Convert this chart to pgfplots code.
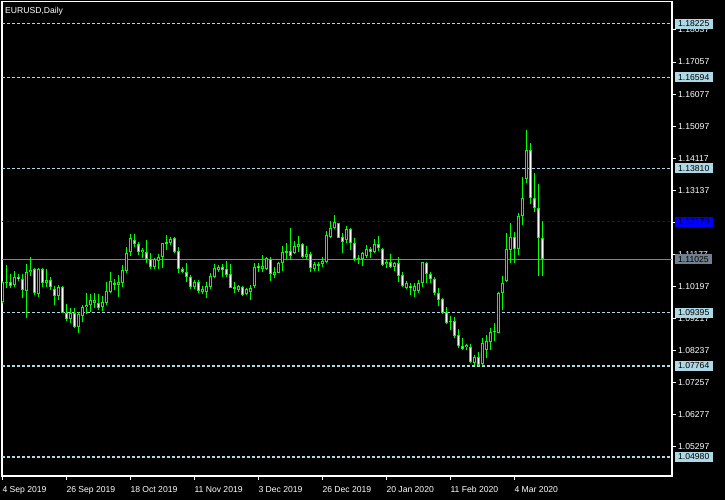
\documentclass[border=0pt]{standalone}
\usepackage{fontspec}
\setmainfont{Liberation Sans}
\usepackage{pgfplots}
\usepackage{pgfplotstable}
\pgfplotsset{compat=1.18}
\definecolor{candle}{RGB}{0,255,0}
\definecolor{lvl}{RGB}{173,216,230}
\definecolor{lvlblue}{RGB}{0,0,255}
\definecolor{pxline}{RGB}{119,136,153}
\definecolor{pxbox}{RGB}{112,128,144}

% EURUSD daily: bar index, open, high, low, close
\pgfplotstableread{
x o h l c
0 1.0972 1.1036 1.0969 1.1033
1 1.1031 1.1085 1.1016 1.1034
2 1.1033 1.1057 1.1016 1.1022
3 1.1024 1.1067 1.1019 1.1048
4 1.1048 1.1057 1.1036 1.1041
5 1.1041 1.1057 1.0983 1.1008
6 1.1007 1.1088 1.0924 1.1063
7 1.1063 1.1109 1.1051 1.1070
8 1.1073 1.1076 1.0993 1.0999
9 1.0996 1.1076 1.0988 1.1072
10 1.1073 1.1077 1.1019 1.1029
11 1.1029 1.1073 1.1019 1.1039
12 1.1038 1.1048 1.1010 1.1017
13 1.1012 1.1020 1.0963 1.0991
14 1.0991 1.1024 1.0978 1.1018
15 1.1018 1.1020 1.0937 1.0939
16 1.0939 1.0965 1.0915 1.0920
17 1.0920 1.0953 1.0907 1.0939
18 1.0938 1.0953 1.0892 1.0897
19 1.0896 1.0942 1.0876 1.0935
20 1.0929 1.0963 1.0912 1.0958
21 1.0956 1.0999 1.0934 1.0963
22 1.0962 1.0996 1.0942 1.0977
23 1.0968 1.1000 1.0955 1.0977
24 1.0970 1.0996 1.0948 1.0955
25 1.0956 1.0990 1.0945 1.0973
26 1.0968 1.1034 1.0963 1.1006
27 1.1004 1.1065 1.0999 1.1036
28 1.1029 1.1041 1.1009 1.1023
29 1.1023 1.1055 1.0988 1.1032
30 1.1029 1.1085 1.1019 1.1070
31 1.1068 1.1140 1.1062 1.1121
32 1.1124 1.1180 1.1114 1.1167
33 1.1162 1.1180 1.1141 1.1149
34 1.1148 1.1155 1.1116 1.1124
35 1.1124 1.1138 1.1106 1.1131
36 1.1126 1.1162 1.1092 1.1103
37 1.1103 1.1121 1.1072 1.1078
38 1.1078 1.1107 1.1072 1.1103
39 1.1098 1.1118 1.1072 1.1110
40 1.1109 1.1153 1.1077 1.1151
41 1.1149 1.1177 1.1131 1.1155
42 1.1151 1.1172 1.1146 1.1165
43 1.1167 1.1172 1.1121 1.1126
44 1.1128 1.1139 1.1062 1.1073
45 1.1073 1.1080 1.1060 1.1065
46 1.1065 1.1090 1.1034 1.1048
47 1.1048 1.1055 1.1012 1.1017
48 1.1017 1.1039 1.1012 1.1032
49 1.1032 1.1039 1.0999 1.1007
50 1.1004 1.1021 1.0996 1.1011
51 1.1004 1.1034 1.0985 1.1022
52 1.1019 1.1060 1.1011 1.1052
53 1.1048 1.1088 1.1044 1.1075
54 1.1070 1.1085 1.1065 1.1080
55 1.1078 1.1087 1.1049 1.1070
56 1.1073 1.1098 1.1048 1.1055
57 1.1058 1.1088 1.1014 1.1016
58 1.1017 1.1032 1.0999 1.1012
59 1.1009 1.1024 1.1004 1.1021
60 1.1019 1.1022 1.0990 1.0993
61 1.0996 1.1014 1.0993 1.1011
62 1.1004 1.1024 1.0978 1.1014
63 1.1022 1.1090 1.1014 1.1080
64 1.1082 1.1092 1.1065 1.1075
65 1.1073 1.1116 1.1065 1.1082
66 1.1073 1.1109 1.1070 1.1106
67 1.1103 1.1109 1.1037 1.1058
68 1.1055 1.1078 1.1046 1.1065
69 1.1062 1.1095 1.1060 1.1092
70 1.1090 1.1143 1.1068 1.1126
71 1.1128 1.1151 1.1100 1.1122
72 1.1128 1.1199 1.1100 1.1113
73 1.1123 1.1159 1.1118 1.1143
74 1.1141 1.1174 1.1126 1.1148
75 1.1149 1.1153 1.1106 1.1109
76 1.1109 1.1143 1.1103 1.1119
77 1.1118 1.1126 1.1065 1.1075
78 1.1073 1.1093 1.1068 1.1088
79 1.1083 1.1095 1.1068 1.1088
80 1.1088 1.1109 1.1078 1.1098
81 1.1093 1.1189 1.1090 1.1177
82 1.1172 1.1220 1.1167 1.1199
83 1.1197 1.1238 1.1195 1.1216
84 1.1212 1.1213 1.1167 1.1169
85 1.1172 1.1184 1.1123 1.1155
86 1.1162 1.1204 1.1151 1.1195
87 1.1195 1.1199 1.1131 1.1151
88 1.1151 1.1169 1.1098 1.1103
89 1.1103 1.1116 1.1088 1.1107
90 1.1103 1.1126 1.1083 1.1121
91 1.1114 1.1146 1.1106 1.1134
92 1.1134 1.1139 1.1106 1.1126
93 1.1126 1.1165 1.1123 1.1148
94 1.1148 1.1174 1.1129 1.1136
95 1.1134 1.1137 1.1083 1.1085
96 1.1088 1.1103 1.1075 1.1095
97 1.1093 1.1118 1.1075 1.1080
98 1.1080 1.1095 1.1068 1.1090
99 1.1090 1.1109 1.1034 1.1052
100 1.1055 1.1065 1.1017 1.1022
101 1.1016 1.1036 1.1011 1.1029
102 1.1021 1.1029 1.0993 1.1014
103 1.1007 1.1029 1.0988 1.1021
104 1.1007 1.1039 1.1000 1.1031
105 1.1029 1.1095 1.1017 1.1093
106 1.1090 1.1093 1.1029 1.1058
107 1.1058 1.1065 1.1029 1.1041
108 1.1042 1.1049 1.0993 1.0999
109 1.1000 1.1016 1.0961 1.0978
110 1.0981 1.0985 1.0935 1.0937
111 1.0940 1.0956 1.0905 1.0909
112 1.0910 1.0930 1.0886 1.0915
113 1.0914 1.0925 1.0863 1.0868
114 1.0871 1.0889 1.0832 1.0838
115 1.0838 1.0861 1.0825 1.0828
116 1.0834 1.0844 1.0825 1.0841
117 1.0835 1.0843 1.0785 1.0790
118 1.0786 1.0810 1.0779 1.0805
119 1.0803 1.0818 1.0777 1.0779
120 1.0782 1.0861 1.0779 1.0846
121 1.0825 1.0871 1.0802 1.0854
122 1.0851 1.0892 1.0825 1.0879
123 1.0879 1.0907 1.0854 1.0881
124 1.0878 1.1003 1.0876 1.0999
125 1.0999 1.1051 1.0948 1.1029
126 1.1037 1.1182 1.1034 1.1133
127 1.1131 1.1213 1.1092 1.1170
128 1.1170 1.1185 1.1092 1.1133
129 1.1133 1.1243 1.1116 1.1236
130 1.1236 1.1353 1.1207 1.1289
131 1.1348 1.1498 1.1335 1.1437
132 1.1437 1.1457 1.1272 1.1289
133 1.1289 1.1366 1.1248 1.1259
134 1.1259 1.1333 1.1051 1.1167
135 1.1167 1.1220 1.1051 1.1103
}\ohlc

\begin{document}
\begin{tikzpicture}[x=1pt,y=1pt,font=\fontsize{8.6}{10}\selectfont]
\path[use as bounding box] (0,0) rectangle (725,500);
\fill[black] (0,0) rectangle (725,500);
\begin{axis}[
  at={(2pt,24pt)}, anchor=south west,
  scale only axis, width=670pt, height=474.5pt,
  xmin=-0.075, xmax=167.425, ymin=1.04399, ymax=1.18908,
  axis line style={white, line width=1.2pt},
  tick style={white, line width=1pt},
  major tick length=4pt, tick align=outside,
  xtick pos=left, ytick pos=right, yticklabel pos=right,
  xtick={0,16,32,48,64,80,96,112,128},
  xticklabels={4 Sep 2019,26 Sep 2019,18 Oct 2019,11 Nov 2019,3 Dec 2019,26 Dec 2019,20 Jan 2020,11 Feb 2020,4 Mar 2020},
  ytick={1.05297,1.06277,1.07257,1.08237,1.09217,1.10197,1.11177,1.12157,1.13137,1.14117,1.15097,1.16077,1.17057,1.18037},
  yticklabels={1.05297,1.06277,1.07257,1.08237,1.09217,1.10197,1.11177,1.12157,1.13137,1.14117,1.15097,1.16077,1.17057,1.18037},
  ticklabel style={text=white, font=\fontsize{8.6}{10}\selectfont},
  xticklabel style={anchor=north west, inner sep=0pt, yshift=-6pt},
  yticklabel style={anchor=west, inner sep=0pt, xshift=2pt},
]
% level lines
\addplot[lvl, dash pattern=on 3pt off 2pt, line width=1.2pt, forget plot] coordinates {(-0.075,1.18225) (167.425,1.18225)};
\addplot[lvl, dash pattern=on 3pt off 2pt, line width=1.2pt, forget plot] coordinates {(-0.075,1.16594) (167.425,1.16594)};
\addplot[lvl, dash pattern=on 3pt off 2pt, line width=1.2pt, forget plot] coordinates {(-0.075,1.13810) (167.425,1.13810)};
\addplot[lvlblue, dash pattern=on 3pt off 2pt, line width=1.4pt, forget plot] coordinates {(-0.075,1.12179) (167.425,1.12179)};
\addplot[pxline, line width=1.2pt, forget plot] coordinates {(-0.075,1.11025) (167.425,1.11025)};
\addplot[lvl, dash pattern=on 3pt off 2pt, line width=1.2pt, forget plot] coordinates {(-0.075,1.09395) (167.425,1.09395)};
\addplot[lvl, dash pattern=on 3pt off 2pt, line width=1.2pt, forget plot] coordinates {(-0.075,1.07764) (167.425,1.07764)};
\addplot[lvl, dash pattern=on 3pt off 2pt, line width=1.2pt, forget plot] coordinates {(-0.075,1.04980) (167.425,1.04980)};
% wicks
\addplot[draw=none, mark=none, forget plot,
  error bars/.cd, y dir=plus, y explicit, error mark=none,
  error bar style={draw=candle, line width=1pt}]
  table[x=x, y=l, y error plus expr={\thisrow{h}-\thisrow{l}}] {\ohlc};
% body outlines
\addplot[draw=none, mark=none, forget plot,
  error bars/.cd, y dir=plus, y explicit, error mark=none,
  error bar style={draw=candle, line width=3pt}]
  table[x=x, y expr={min(\thisrow{o},\thisrow{c})}, y error plus expr={max(abs(\thisrow{c}-\thisrow{o}),0.0003)}] {\ohlc};
% bull bodies (black)
\addplot[draw=none, mark=none, forget plot,
  error bars/.cd, y dir=plus, y explicit, error mark=none,
  error bar style={draw=black, line width=1pt}]
  table[x=x, y expr={\thisrow{c}-\thisrow{o}>0.0006 ? \thisrow{o}+0.0003 : nan}, y error plus expr={\thisrow{c}-\thisrow{o}-0.0006}] {\ohlc};
% bear bodies (white)
\addplot[draw=none, mark=none, forget plot,
  error bars/.cd, y dir=plus, y explicit, error mark=none,
  error bar style={draw=white, line width=1pt}]
  table[x=x, y expr={\thisrow{o}-\thisrow{c}>0.0006 ? \thisrow{c}+0.0003 : nan}, y error plus expr={\thisrow{o}-\thisrow{c}-0.0006}] {\ohlc};
\coordinate (a1) at (axis cs:167.425,1.18225);
\coordinate (a2) at (axis cs:167.425,1.16594);
\coordinate (a3) at (axis cs:167.425,1.13810);
\coordinate (a4) at (axis cs:167.425,1.12179);
\coordinate (a5) at (axis cs:167.425,1.11025);
\coordinate (a6) at (axis cs:167.425,1.09395);
\coordinate (a7) at (axis cs:167.425,1.07764);
\coordinate (a8) at (axis cs:167.425,1.04980);
\end{axis}
\tikzset{pbox/.style={anchor=west, text=black, inner xsep=3.5pt, inner ysep=0pt, minimum height=10pt}}
\node[pbox, fill=lvl] at ([xshift=2.5pt]a1) {1.18225};
\node[pbox, fill=lvl] at ([xshift=2.5pt]a2) {1.16594};
\node[pbox, fill=lvl] at ([xshift=2.5pt]a3) {1.13810};
\node[pbox, fill=lvlblue] at ([xshift=2.5pt]a4) {1.12179};
\node[pbox, fill=pxbox] at ([xshift=2.5pt]a5) {1.11025};
\node[pbox, fill=lvl] at ([xshift=2.5pt]a6) {1.09395};
\node[pbox, fill=lvl] at ([xshift=2.5pt]a7) {1.07764};
\node[pbox, fill=lvl] at ([xshift=2.5pt]a8) {1.04980};
\node[anchor=base west, inner sep=0pt, text=white] at (5,486.7) {EURUSD,Daily};
\end{tikzpicture}
\end{document}
